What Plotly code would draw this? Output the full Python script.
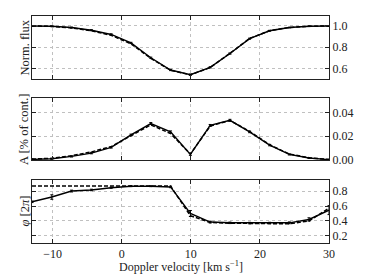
import plotly.graph_objects as go

velocity = [-13.0, -10.13, -7.27, -4.40, -1.54, 1.33, 4.20, 7.06, 9.93, 12.80, 15.66, 18.50, 21.40, 24.26, 27.10, 30.0]

flux_obs = [1.0, 0.997, 0.985, 0.960, 0.920, 0.840, 0.700, 0.585, 0.540, 0.610, 0.740, 0.880, 0.955, 0.985, 0.997, 1.0]
flux_mod = [1.0, 0.996, 0.982, 0.955, 0.912, 0.832, 0.695, 0.582, 0.540, 0.608, 0.742, 0.882, 0.956, 0.986, 0.997, 1.0]
flux_err = [0.003, 0.003, 0.004, 0.005, 0.006, 0.006, 0.006, 0.006, 0.006, 0.006, 0.006, 0.005, 0.004, 0.003, 0.003, 0.003]

amp_obs = [0.0005, 0.0010, 0.0030, 0.0058, 0.0106, 0.0210, 0.0306, 0.0236, 0.0047, 0.0290, 0.0333, 0.0236, 0.0125, 0.0047, 0.0017, 0.0003]
amp_mod = [0.0008, 0.0014, 0.0036, 0.0068, 0.0112, 0.0206, 0.0295, 0.0222, 0.0050, 0.0285, 0.0332, 0.0240, 0.0128, 0.0050, 0.0019, 0.0004]
amp_err = [0.0004, 0.0004, 0.0005, 0.0006, 0.0006, 0.0007, 0.0008, 0.0008, 0.0008, 0.0008, 0.0008, 0.0007, 0.0006, 0.0005, 0.0004, 0.0004]

phase_obs = [0.656, 0.720, 0.800, 0.815, 0.845, 0.865, 0.865, 0.855, 0.500, 0.385, 0.375, 0.372, 0.372, 0.375, 0.420, 0.545]
phase_mod = [0.867, 0.867, 0.867, 0.867, 0.867, 0.867, 0.867, 0.867, 0.470, 0.380, 0.370, 0.365, 0.362, 0.362, 0.400, 0.570]
phase_err = [0.010, 0.030, 0.012, 0.010, 0.008, 0.006, 0.006, 0.010, 0.040, 0.012, 0.010, 0.010, 0.010, 0.012, 0.022, 0.060]

FONT = "Liberation Serif, DejaVu Serif, serif"
INK = "#222222"
GRID = "#c0c0c0"

fig = go.Figure()
panels = [(flux_obs, flux_mod, flux_err, "x", "y"),
          (amp_obs, amp_mod, amp_err, "x2", "y2"),
          (phase_obs, phase_mod, phase_err, "x3", "y3")]
for obs, mod, err, xa, ya in panels:
    fig.add_trace(go.Scatter(x=velocity, y=mod, mode="lines", xaxis=xa, yaxis=ya,
                             line=dict(color="black", width=1.5, dash="4px,2px"),
                             showlegend=False, hoverinfo="skip"))
    fig.add_trace(go.Scatter(x=velocity, y=obs, mode="lines", xaxis=xa, yaxis=ya,
                             line=dict(color="black", width=1.4),
                             error_y=dict(type="data", array=err, visible=True,
                                          color="black", thickness=1, width=1.5),
                             showlegend=False))

# page body has an 8px margin, so the figure is drawn 8px smaller and offset
W, H = 358, 268
ml, mr, mt, mb = 24, 37, 8, 33
ph = H - mt - mb
OFF = 8

def dom(top_px, bot_px):
    return [(H - mb - (bot_px - OFF)) / ph, (H - mb - (top_px - OFF)) / ph]

common_x = dict(range=[-13, 30], tickvals=[-10, 0, 10, 20, 30], ticks="inside", ticklen=4,
                tickcolor=INK, showline=True, linecolor=INK, linewidth=1, mirror="ticks",
                showgrid=True, gridcolor=GRID, griddash="dot", gridwidth=1, automargin=False,
                zeroline=False, tickfont=dict(family=FONT, size=12, color=INK))
common_y = dict(side="right", ticks="inside", ticklen=4, tickcolor=INK, showline=True,
                linecolor=INK, linewidth=1, mirror="ticks", showgrid=True, automargin=False,
                gridcolor=GRID, griddash="dot", gridwidth=1, zeroline=False,
                tickfont=dict(family=FONT, size=12, color=INK))

fig.update_layout(
    width=W, height=H, margin=dict(l=ml, r=mr, t=mt, b=mb, autoexpand=False),
    paper_bgcolor="white", plot_bgcolor="white",
    font=dict(family=FONT, size=12, color=INK),
    xaxis=dict(common_x, anchor="y", showticklabels=False),
    xaxis2=dict(common_x, anchor="y2", matches="x", showticklabels=False),
    xaxis3=dict(common_x, anchor="y3", matches="x"),
    yaxis=dict(common_y, anchor="x", domain=dom(16, 79), range=[0.5, 1.094],
               tickvals=[0.6, 0.8, 1.0], tickformat=".1f"),
    yaxis2=dict(common_y, anchor="x2", domain=dom(98, 160), range=[0, 0.052],
                tickvals=[0.0, 0.02, 0.04], tickformat=".2f"),
    yaxis3=dict(common_y, anchor="x3", domain=dom(180, 243), range=[0.105, 0.948],
                tickvals=[0.2, 0.4, 0.6, 0.8], tickformat=".1f"),
)

fig.add_annotation(text="Doppler velocity [km s<sup>−1</sup>]",
                   x=0.5, y=(H - mb - (266 - OFF)) / ph, xref="paper", yref="paper",
                   showarrow=False, xanchor="center", yanchor="middle",
                   font=dict(family=FONT, size=12, color=INK))

xt = ((24 - OFF) - ml) / (W - ml - mr)
for text, (a, b) in [("Norm. flux", dom(16, 79)), ("A [% of cont.]", dom(98, 160)),
                     ("<i>φ</i> [2<i>π</i>]", dom(180, 243))]:
    fig.add_annotation(text=text, x=xt, y=(a + b) / 2, xref="paper", yref="paper",
                       showarrow=False, textangle=-90, xanchor="center", yanchor="middle",
                       font=dict(family=FONT, size=12.5, color=INK))

fig.write_html("out.html")
